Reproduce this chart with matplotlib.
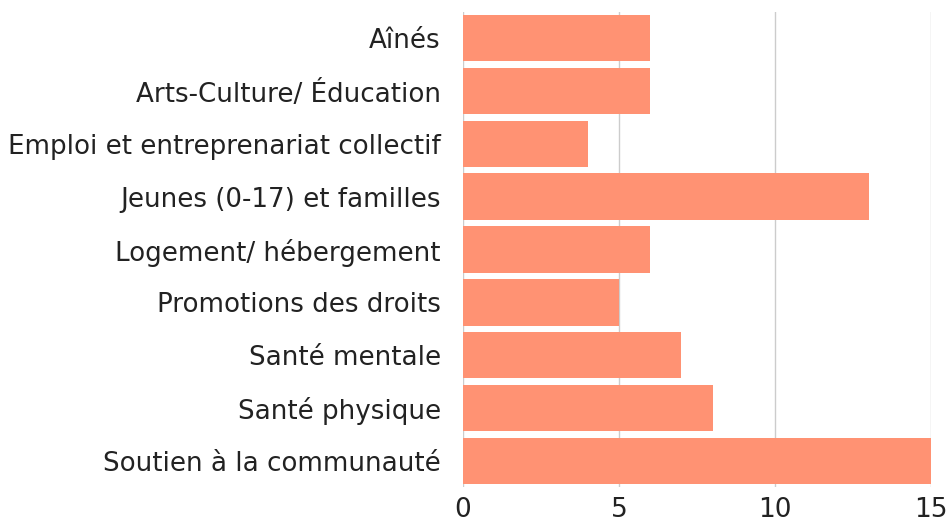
import matplotlib
matplotlib.use("Agg")
import matplotlib.pyplot as plt

# Données
categories = ["Aînés", "Arts-Culture/ Éducation", "Emploi et entreprenariat collectif",
              "Jeunes (0-17) et familles", "Logement/ hébergement", "Promotions des droits",
              "Santé mentale", "Santé physique", "Soutien à la communauté"]
valeurs = [6, 6, 4, 13, 6, 5, 7, 8, 15]
ticks = [0, 5, 10, 15]

plt.rcParams['font.family'] = ['DejaVu Sans']

fig = plt.figure(figsize=(9.46, 5.25), dpi=100)
ax = fig.add_axes([0.4894, 0.072, 0.4947, 0.9055])

pos = list(range(len(categories)))
ax.barh(pos, valeurs, height=0.88, color='#FF9273', zorder=2)
ax.set_yticks(pos)
ax.set_yticklabels(categories, fontsize=18.8, color='#222222')
ax.set_ylim(len(categories) - 0.5, -0.5)
ax.set_xlim(0, 15)
ax.set_xticks(ticks)
ax.set_xticklabels([str(t) for t in ticks], fontsize=19, color='#222222')
ax.grid(axis='x', color='#cccccc', linewidth=1, zorder=0)
for s in ax.spines.values():
    s.set_visible(False)
ax.tick_params(axis='y', length=0, pad=16)
ax.tick_params(axis='x', length=0, pad=7)

fig.savefig("out.png", dpi=100)
